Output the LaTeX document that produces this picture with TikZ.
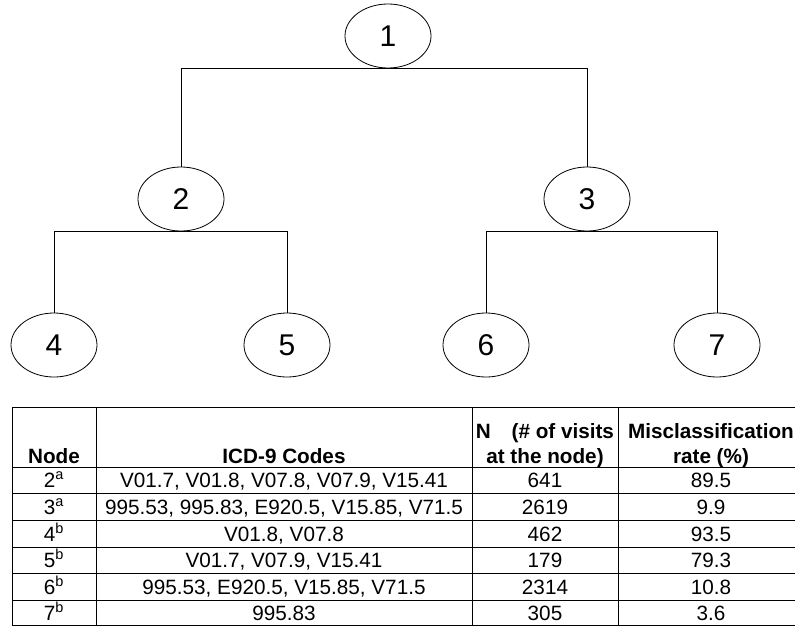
\documentclass[tikz,border=0pt]{standalone}
\usepackage{fontspec}
\setmainfont{Liberation Sans}
\usepackage{tikz}
\usetikzlibrary{shapes.geometric, positioning}
\tikzstyle{treenode} = [ellipse, draw, line width=0.8pt, minimum width=86pt, minimum height=64pt,
  inner sep=0pt, font=\fontsize{30}{30}\selectfont]
\tikzstyle{branch} = [line width=0.8pt]
\tikzstyle{tabline} = [line width=0.9pt]
\tikzstyle{headcell} = [font=\fontsize{20.7}{25}\selectfont\bfseries, align=center, anchor=south,
  inner sep=0pt, text depth=0.22em]
\tikzstyle{cell} = [font=\fontsize{20.7}{25}\selectfont, anchor=base, inner sep=0pt]

\begin{document}
\begin{tikzpicture}[x=1pt, y=-1pt]
  \useasboundingbox (0,0) rectangle (795,626);
  \clip (0,0) rectangle (795,626);

  % tree
  \node (n1) [treenode] at (388,36) {1};
  \node (n2) [treenode] at (181,199) {2};
  \node (n3) [treenode] at (587,199) {3};
  \node (n4) [treenode] at (54,345) {4};
  \node (n5) [treenode] at (287,345) {5};
  \node (n6) [treenode] at (486,345) {6};
  \node (n7) [treenode] at (717,345) {7};

  \draw[branch] (n2.north) |- (n1.south) -| (n3.north);
  \draw[branch] (n4.north) |- (n2.south) -| (n5.north);
  \draw[branch] (n6.north) |- (n3.south) -| (n7.north);

  % table grid
  \draw[tabline] (12,407) rectangle (804,625);
  \draw[tabline] (96,407) -- (96,625) (472,407) -- (472,625) (618,407) -- (618,625);
  \draw[tabline] (12,467) -- (804,467) (12,493) -- (804,493) (12,520) -- (804,520)
    (12,547) -- (804,547) (12,573) -- (804,573) (12,600) -- (804,600);

  % header
  \node (hnode) [headcell] at (54,465.5) {Node};
  \node (hcode) [headcell] at (284,465.5) {ICD-9 Codes};
  \node (hvis) [headcell] at (545,465.5) {N\quad(\# of visits\\at the node)};
  \node (hrate) [headcell] at (711,465.5) {Misclassification\\rate (\%)};

  % rows
  \node (k2) [cell] at (54,487.5) {2\textsuperscript{a}};
  \node (c2) [cell] at (284,487.5) {V01.7, V01.8, V07.8, V07.9, V15.41};
  \node (v2) [cell] at (545,487.5) {641};
  \node (r2) [cell] at (711,487.5) {89.5};

  \node (k3) [cell] at (54,514) {3\textsuperscript{a}};
  \node (c3) [cell] at (284,514) {995.53, 995.83, E920.5, V15.85, V71.5};
  \node (v3) [cell] at (545,514) {2619};
  \node (r3) [cell] at (711,514) {9.9};

  \node (k4) [cell] at (54,541) {4\textsuperscript{b}};
  \node (c4) [cell] at (284,541) {V01.8, V07.8};
  \node (v4) [cell] at (545,541) {462};
  \node (r4) [cell] at (711,541) {93.5};

  \node (k5) [cell] at (54,567.5) {5\textsuperscript{b}};
  \node (c5) [cell] at (284,567.5) {V01.7, V07.9, V15.41};
  \node (v5) [cell] at (545,567.5) {179};
  \node (r5) [cell] at (711,567.5) {79.3};

  \node (k6) [cell] at (54,594) {6\textsuperscript{b}};
  \node (c6) [cell] at (284,594) {995.53, E920.5, V15.85, V71.5};
  \node (v6) [cell] at (545,594) {2314};
  \node (r6) [cell] at (711,594) {10.8};

  \node (k7) [cell] at (54,620) {7\textsuperscript{b}};
  \node (c7) [cell] at (284,620) {995.83};
  \node (v7) [cell] at (545,620) {305};
  \node (r7) [cell] at (711,620) {3.6};
\end{tikzpicture}
\end{document}
